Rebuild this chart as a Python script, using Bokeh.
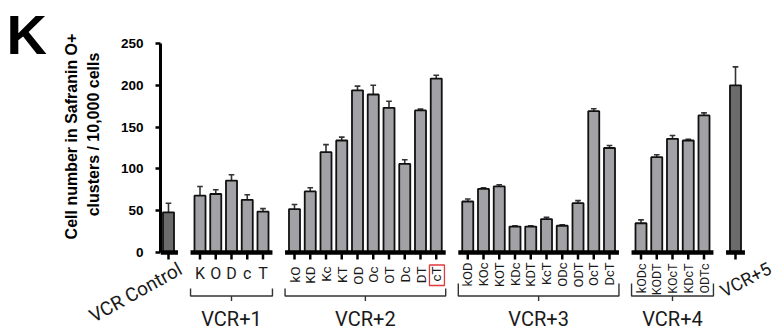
import math
from bokeh.plotting import figure
from bokeh.models import Range1d, FixedTicker, ColumnDataSource
from bokeh.core.properties import value
from bokeh.embed import file_html
from bokeh.resources import INLINE

# ---------------- data ----------------
control_label = "VCR Control"
control_value = 48
control_err = 11

group_names = ["VCR+1", "VCR+2", "VCR+3", "VCR+4"]
group_labels = [
    ["K", "O", "D", "c", "T"],
    ["kO", "KD", "Kc", "KT", "OD", "Oc", "OT", "Dc", "DT", "cT"],
    ["kOD", "KOc", "KOT", "KDc", "KDT", "KcT", "ODc", "ODT", "OcT", "DcT"],
    ["kODc", "KODT", "KOcT", "KDcT", "ODTc"],
]
group_values = [
    [68, 70, 86, 63, 49],
    [52, 73, 120, 134, 194, 189, 173, 106, 170, 208],
    [61, 76, 79, 31, 31, 40, 32, 59, 169, 125],
    [35, 114, 136, 134, 164],
]
group_errors = [
    [11, 5, 7, 6, 3.5],
    [5.5, 4.5, 9, 4, 5, 11, 8, 5, 1.5, 4],
    [3, 1.5, 2, 1, 1, 2, 1, 3, 3, 3],
    [4, 3, 4, 1.5, 3],
]
last_label = "VCR+5"
last_value = 200
last_err = 22

y_ticks = [0, 50, 100, 150, 200, 250]
y_title_1 = "Cell number in Safranin O+"
y_title_2 = "clusters / 10,000 cells"
panel_letter = "K"
highlight_label = "cT"

# ---------------- layout ----------------
PX_X = 15.75      # px per slot
PX_Y = 0.836      # px per unit
X0_PAGE = 168.0   # canvas x of slot 0
Y0_PAGE = 252.0   # canvas y of value 0

def dx(px):
    return (px - X0_PAGE) / PX_X

def dy(py):
    return (Y0_PAGE - py) / PX_Y

W, H = 775, 329
left_border = 160
top_border = 30

x_start = dx(left_border)
x_end = dx(W)
y_end = dy(top_border)
y_start = dy(H)

# slot positions: control at 0, then groups separated by one empty slot
slot = 0
control_x = slot
group_xs = []
slot += 2
for labs in group_labels:
    xs = list(range(slot, slot + len(labs)))
    group_xs.append(xs)
    slot += len(labs) + 1
last_x = slot

p = figure(width=W, height=H, output_backend="svg", toolbar_location=None,
           x_range=Range1d(x_start, x_end), y_range=Range1d(y_start, y_end),
           x_axis_type=None, min_border_left=left_border, min_border_right=0,
           min_border_top=top_border, min_border_bottom=0)
p.outline_line_color = None
p.grid.visible = False
p.background_fill_color = "white"
p.border_fill_color = "white"

yax = p.yaxis[0]
yax.bounds = (0, 250)
yax.ticker = FixedTicker(ticks=y_ticks)
yax.minor_tick_line_color = None
yax.major_tick_out = 5
yax.major_tick_in = 0
yax.major_tick_line_width = 2.5
yax.axis_line_width = 3
yax.axis_line_color = "black"
yax.major_tick_line_color = "black"
yax.major_label_text_font = "Liberation Sans"
yax.major_label_text_font_style = "bold"
yax.major_label_text_font_size = "13.5px"
yax.major_label_text_color = "black"
yax.major_label_standoff = 12

BAR_W = 0.7
LIGHT = "#a2a2a6"
DARK = "#6b6b6b"
OUT = "#111111"

# bars
all_x, all_v, all_e, all_c = [control_x], [control_value], [control_err], [DARK]
for xs, vals, errs in zip(group_xs, group_values, group_errors):
    all_x += xs
    all_v += vals
    all_e += errs
    all_c += [LIGHT] * len(xs)
all_x.append(last_x)
all_v.append(last_value)
all_e.append(last_err)
all_c.append(DARK)

err_top = [v + e for v, e in zip(all_v, all_e)]
src = ColumnDataSource(dict(x=all_x, top=all_v, err_top=err_top, color=all_c))
CAP = 0.18
p.segment(x0="x", y0="top", x1="x", y1="err_top", source=src, line_color="#333333", line_width=1.6)
p.segment(x0=[x - CAP for x in all_x], y0=err_top, x1=[x + CAP for x in all_x], y1=err_top,
          line_color="#333333", line_width=1.6)
p.vbar(x="x", top="top", bottom=0, width=BAR_W, source=src, fill_color="color",
       line_color=OUT, line_width=1.8)

# baselines per group
segs = [(control_x - 0.5, control_x + 0.6)]
for xs in group_xs:
    segs.append((xs[0] - 0.6, xs[-1] + 0.6))
segs.append((last_x - 0.6, last_x + 0.6))
p.segment(x0=[s[0] for s in segs], y0=0, x1=[s[1] for s in segs], y1=0,
          line_color="black", line_width=4.5)
# tick marks under each bar
p.segment(x0=all_x, y0=0, x1=all_x, y1=dy(259), line_color="black", line_width=2.5)

TXT_FONT = "Roboto"
TXT_COL = "#1a1a1a"
# group 1 labels (horizontal)
p.text(x=group_xs[0], y=dy(272.5), text=group_labels[0], text_font=value(TXT_FONT),
       text_font_size="16px", text_align="center", text_baseline="middle", text_color=TXT_COL)
# groups 2-4 rotated labels
tops = [None, 266, 262, 263]
sizes = [None, "13.5px", "13px", "12.5px"]
for gi in range(1, 4):
    p.text(x=group_xs[gi], y=dy(tops[gi]), text=group_labels[gi], text_font=value(TXT_FONT),
           text_font_size=sizes[gi], text_align="right", text_baseline="middle",
           angle=math.pi / 2, text_color=TXT_COL)

# red box round highlighted label
hi = group_xs[1][group_labels[1].index(highlight_label)]
p.quad(left=hi - 0.43, right=hi + 0.52, top=dy(264.5), bottom=dy(285), fill_color=None,
       line_color="#e0393e", line_width=1.3)

# braces
bx, by = [], []
brace_tops = [288, 288, 283, 283]
for gi, xs in enumerate(group_xs):
    a, b = xs[0] - 0.6, xs[-1] + 0.6
    bx.append([a, a, b, b])
    by.append([dy(brace_tops[gi]), dy(295.5), dy(295.5), dy(brace_tops[gi])])
    c = (xs[0] + xs[-1]) / 2
    bx.append([c, c])
    by.append([dy(295.5), dy(300.5)])
p.multi_line(xs=bx, ys=by, line_color="#333333", line_width=1.4)

# group names
p.text(x=[(xs[0] + xs[-1]) / 2 for xs in group_xs], y=dy(318), text=group_names,
       text_font=value(TXT_FONT), text_font_size="20px", text_align="center",
       text_baseline="middle", text_color=TXT_COL)

# VCR+5 rotated name
p.text(x=[dx(745)], y=[dy(279)], text=[last_label], angle=math.radians(27),
       text_align="center", text_baseline="middle", text_font=value(TXT_FONT),
       text_font_size="18px", text_color=TXT_COL)

# texts that lie left of the frame: drawn on the overlay level
p.text(x=[dx(135)], y=[dy(292)], text=[control_label], angle=math.radians(29),
       text_align="center", text_baseline="middle", text_font=value(TXT_FONT),
       text_font_size="19px", text_color=TXT_COL, level="overlay")
p.text(x=[dx(71), dx(93)], y=[dy(136), dy(134)], text=[y_title_1, y_title_2],
       angle=math.pi / 2, text_align="center", text_baseline="middle",
       text_font=value("Liberation Sans"), text_font_style="bold", text_font_size="16px",
       text_color="black", level="overlay")
p.text(x=[dx(6)], y=[dy(34)], text=[panel_letter], text_align="left",
       text_baseline="middle", text_font=value("Liberation Sans"), text_font_style="bold",
       text_font_size="56px", text_color="black", level="overlay")

open("out.html", "w").write(file_html(p, INLINE))
